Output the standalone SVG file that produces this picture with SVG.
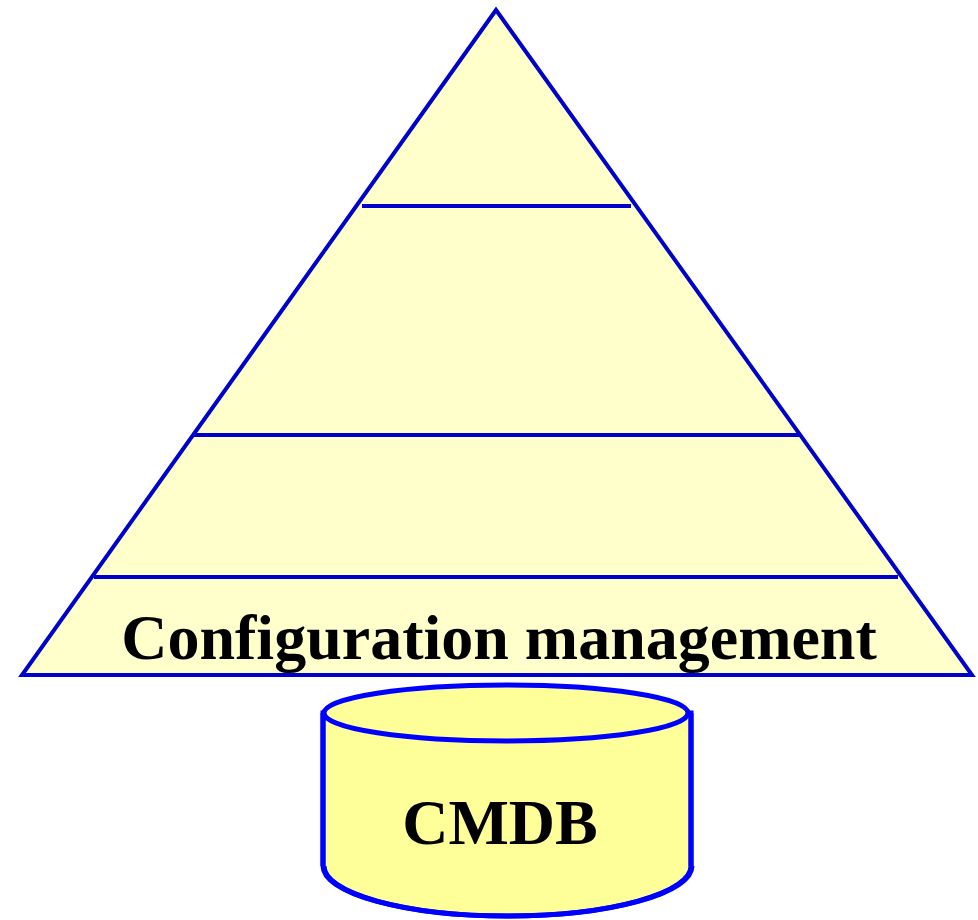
<svg xmlns="http://www.w3.org/2000/svg" width="978" height="920" viewBox="0 0 978 920">
  <style>
    .pyr { fill: #FFFFCC; stroke: #0000CC; stroke-width: 4; stroke-linejoin: miter; }
    .tier { stroke: #0000CC; stroke-width: 4; fill: none; }
    .db { fill: #FFFF99; stroke: #0000FF; stroke-width: 5; }
    .label { font-family: "Liberation Serif", "Times New Roman", serif; font-weight: bold; fill: #000000; text-anchor: middle; }
  </style>
  <rect width="978" height="920" fill="#FFFFFF"/>

  <!-- Pyramid with tier dividers -->
  <g id="pyramid">
    <polygon class="pyr" points="496,10 22,675 972,675"/>
    <line class="tier" x1="362" y1="206" x2="631" y2="206"/>
    <line class="tier" x1="193" y1="435" x2="799" y2="435"/>
    <line class="tier" x1="94" y1="577" x2="898" y2="577"/>
    <text class="label" x="499" y="659" font-size="64">Configuration management</text>
  </g>

  <!-- Database cylinder -->
  <g id="cmdb">
    <path class="db" d="M323,713 L323,866 A184,50 0 0 0 691,866 L691,713 Z" stroke="none"/>
    <line x1="323" y1="713" x2="323" y2="866" stroke="#0000FF" stroke-width="5"/>
    <line x1="691" y1="713" x2="691" y2="866" stroke="#0000FF" stroke-width="5"/>
    <path d="M324,866 A184,50 0 0 0 692,866" fill="none" stroke="#0000FF" stroke-width="5"/>
    <ellipse class="db" cx="506" cy="713" rx="182" ry="28"/>
    <text class="label" x="500" y="844" font-size="64">CMDB</text>
  </g>
</svg>
